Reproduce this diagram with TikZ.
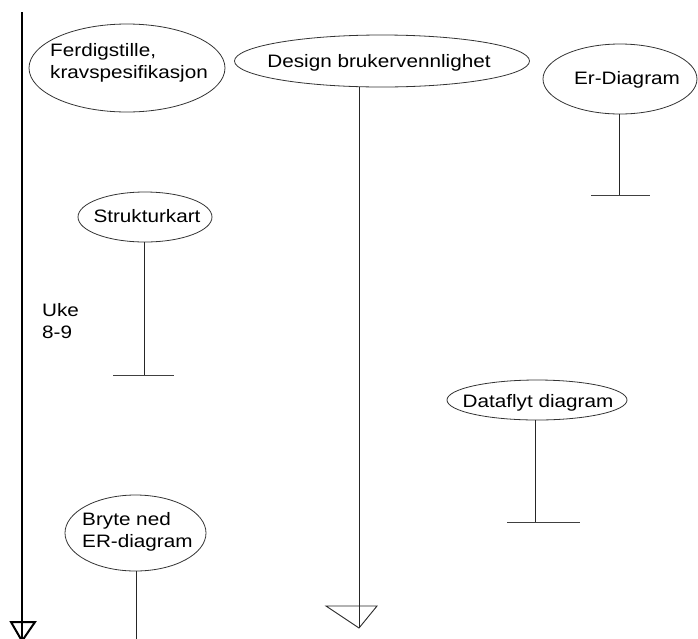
\documentclass[tikz,border=0pt]{standalone}
\usepackage{fontspec}
\setmainfont{Liberation Sans}[FakeStretch=1.15]
\usetikzlibrary{shapes.geometric}
\tikzset{
  task/.style={ellipse, draw=black!80, line width=0.8pt, inner sep=0pt},
  stem/.style={draw=black!85, line width=0.9pt},
  bar/.style={draw=black!75, line width=0.9pt},
  timeline/.style={draw=black, line width=2.6pt},
  lbl/.style={inner sep=0pt, font=\fontsize{18pt}{22pt}\selectfont, text=black}
}
\begin{document}
\begin{tikzpicture}[x=1pt,y=-1pt]
\useasboundingbox (0,0) rectangle (698,638);
% timeline
\coordinate (tTop) at (22,12);
\coordinate (tEnd) at (22,641);
\draw[timeline] (tTop) -- (tEnd);
\draw[draw=black, line width=2pt, line join=miter] ([xshift=-11pt,yshift=19pt]tEnd) -- ([xshift=13pt,yshift=19pt]tEnd) -- (tEnd) -- cycle;
\node[lbl, anchor=north west, align=left] (uke) at (42,303) {Uke\\8-9};

% tasks (ellipses)
\node[task, minimum width=196pt, minimum height=88pt] (ferd) at (127,68) {};
\node[task, minimum width=295pt, minimum height=52pt] (design) at (382,61) {};
\node[task, minimum width=154pt, minimum height=70pt] (er) at (620,79) {};
\node[task, minimum width=134pt, minimum height=50pt] (struk) at (145,217) {};
\node[task, minimum width=180pt, minimum height=40pt] (data) at (537,400) {};
\node[task, minimum width=141pt, minimum height=76pt] (bryte) at (135.5,533) {};

% task texts
\node[lbl, anchor=north west, align=left] (ferdT) at (50,43) {Ferdigstille,\\kravspesifikasjon};
\node[lbl, anchor=base] (designT) at (379,67) {Design brukervennlighet};
\node[lbl, anchor=base] (erT) at (627,84) {Er-Diagram};
\node[lbl, anchor=base] (strukT) at (147,222) {Strukturkart};
\node[lbl, anchor=base] (dataT) at (538,407) {Dataflyt diagram};
\node[lbl, anchor=north west, align=left] (bryteT) at (82,512) {Bryte ned\\ER-diagram};

% design stem with arrow
\coordinate (dEnd) at (359,628);
\draw[stem] (design.south -| dEnd) -- (dEnd);
\draw[stem, line join=miter] ([xshift=-33pt,yshift=22pt]dEnd) -- ([xshift=18pt,yshift=22pt]dEnd) -- (dEnd) -- cycle;

% er stem
\coordinate (erEnd) at (619,195);
\draw[stem] (er.south -| erEnd) -- (erEnd);
\draw[bar] ([xshift=-28pt]erEnd) -- ([xshift=31pt]erEnd);

% strukturkart stem
\coordinate (skEnd) at (144,375);
\draw[stem] (struk.south -| skEnd) -- (skEnd);
\draw[bar] ([xshift=-31pt]skEnd) -- ([xshift=30pt]skEnd);

% dataflyt stem
\coordinate (dfEnd) at (535,522);
\draw[stem] (data.south -| dfEnd) -- (dfEnd);
\draw[bar] ([xshift=-28pt]dfEnd) -- ([xshift=45pt]dfEnd);

% bryte stem
\coordinate (brEnd) at (136,640);
\draw[stem] (bryte.south -| brEnd) -- (brEnd);
\end{tikzpicture}
\end{document}
